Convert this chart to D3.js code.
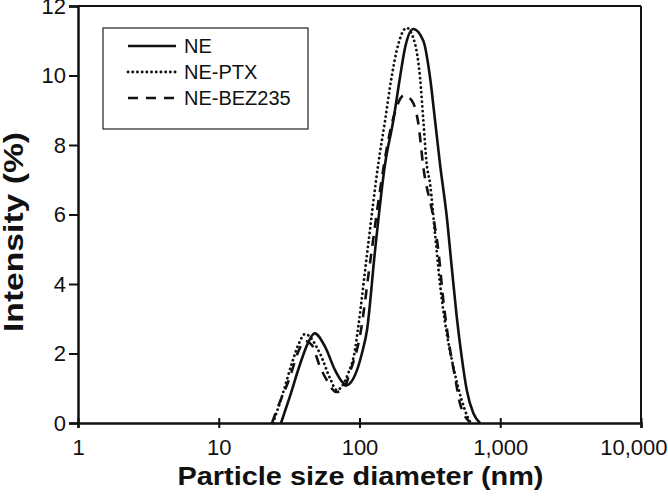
<!DOCTYPE html>
<html>
<head>
<meta charset="utf-8">
<script src="https://cdn.jsdelivr.net/npm/d3@7"></script>
<style>
  body { margin: 0; background: #fff; }
  svg { font-family: "Liberation Sans", Arial, sans-serif; }
</style>
</head>
<body>
<div id="chart"></div>
<script>
// Data: size (nm) and intensity (%)
const neSize = [27.7, 32, 38, 43, 48, 57, 67, 75, 81, 93, 104, 113, 129, 152, 174, 194, 211, 241, 284, 317, 344, 373, 417, 452, 491, 532, 578, 644, 718];
const neInt = [0, 0.76, 1.72, 2.3, 2.58, 2.19, 1.52, 1.19, 1.09, 1.38, 2.0, 2.67, 4.97, 7.46, 8.71, 9.95, 10.81, 11.34, 11.0, 9.95, 8.71, 7.46, 5.93, 4.49, 3.05, 1.91, 0.95, 0.28, 0];

const ptxSize = [24.3, 28.2, 33.1, 37.2, 41, 52.4, 61.7, 68.8, 83.2, 92.9, 98, 115, 136, 152, 169, 189, 216, 248, 269, 284, 300, 317, 344, 373, 417, 464, 532, 593, 617];
const ptxInt = [0, 0.78, 1.72, 2.3, 2.56, 2.0, 1.29, 0.95, 1.43, 2.1, 2.77, 5.1, 7.46, 8.71, 9.95, 10.91, 11.37, 10.91, 9.95, 8.71, 7.46, 6.89, 5.45, 4.01, 2.58, 1.62, 0.66, 0.13, 0];

const bezSize = [23.9, 25.8, 32.1, 36.6, 41, 45.9, 52.4, 59.7, 68.1, 76.3, 85.6, 101, 119, 140, 160, 182, 207, 235, 262, 284, 334, 363, 394, 440, 477, 517, 603];
const bezInt = [0, 0.37, 1.33, 2.04, 2.36, 2.24, 1.62, 1.18, 0.89, 0.95, 1.47, 2.53, 4.63, 6.7, 8.13, 9.05, 9.43, 9.28, 8.61, 7.37, 5.93, 4.97, 3.53, 2.1, 1.33, 0.57, 0.04];

const seriesNames = ['NE', 'NE-PTX', 'NE-BEZ235'];
const xTicks = [1, 10, 100, 1000, 10000];
const yTicks = [0, 2, 4, 6, 8, 10, 12];

//Chart dimensions
const margin = { top: 6, bot: 75, left: 78, right: 27 };
const width = 668 - margin.left - margin.right;
const height = 498 - margin.top - margin.bot;

// Scales
const xScale = d3.scaleLog()
  .domain([1, 10000])
  .range([0, width]);

const yScale = d3.scaleLinear()
  .domain([0, 12])
  .range([height, 0]);

const DOT = '0.1 4.6';
const series = [
  { name: seriesNames[0], values: neSize.map((s, i) => ({ size: s, v: neInt[i] })), dash: null },
  { name: seriesNames[1], values: ptxSize.map((s, i) => ({ size: s, v: ptxInt[i] })), dash: DOT },
  { name: seriesNames[2], values: bezSize.map((s, i) => ({ size: s, v: bezInt[i] })), dash: '10 8' }
];

const svg = d3.select('#chart').append('svg')
  .attr('width', 668)
  .attr('height', 498);

const g = svg.append('g')
  .attr('transform', `translate(${margin.left}, ${margin.top})`);

// frame (top and right)
g.append('line')
  .attr('x1', 0).attr('x2', width)
  .attr('y1', 0).attr('y2', 0)
  .attr('stroke', '#111').attr('stroke-width', 2);
g.append('line')
  .attr('x1', width).attr('x2', width)
  .attr('y1', 0).attr('y2', height)
  .attr('stroke', '#111').attr('stroke-width', 2);

//Axes
const xAxis = d3.axisBottom(xScale)
  .tickValues(xTicks)
  .tickFormat(d3.format(','))
  .tickSize(5)
  .tickPadding(11);

const yAxis = d3.axisLeft(yScale)
  .tickValues(yTicks)
  .tickSize(9)
  .tickPadding(3);

const xAxisGroup = g.append('g')
  .attr('transform', `translate(0, ${height})`)
  .call(xAxis);

const yAxisGroup = g.append('g')
  .call(yAxis);

[xAxisGroup, yAxisGroup].forEach(ax => {
  ax.select('.domain').attr('stroke', '#111').attr('stroke-width', 2.5);
  ax.selectAll('.tick line').attr('stroke', '#111').attr('stroke-width', 2);
  ax.selectAll('.tick text')
    .attr('fill', '#111')
    .style('font-size', '22px')
    .style('font-family', '"Liberation Sans", Arial, sans-serif');
});
// x ticks cross the axis
xAxisGroup.selectAll('.tick line').attr('y1', -5).attr('y2', 5);
// last x label kept inside the picture
xAxisGroup.selectAll('.tick text')
  .filter(d => d === 10000)
  .attr('text-anchor', 'end')
  .attr('x', 26);

//Line function
const line = d3.line()
  .x(d => xScale(d.size))
  .y(d => yScale(d.v))
  .curve(d3.curveMonotoneX);

series.forEach(s => {
  g.append('path')
    .attr('d', line(s.values))
    .attr('fill', 'none')
    .attr('stroke', '#111')
    .attr('stroke-width', s.dash === DOT ? 2.8 : 2.6)
    .attr('stroke-linecap', s.dash === DOT ? 'round' : 'butt')
    .attr('stroke-dasharray', s.dash);
});

//Legend
const legend = svg.append('g')
  .attr('class', 'legend')
  .attr('transform', 'translate(103, 28)');

legend.append('rect')
  .attr('width', 205)
  .attr('height', 101)
  .attr('fill', '#fff')
  .attr('stroke', '#222')
  .attr('stroke-width', 1.2);

series.forEach((s, i) => {
  const row = legend.append('g')
    .attr('transform', `translate(0, ${18 + i * 26})`);
  row.append('line')
    .attr('x1', 25).attr('x2', 73)
    .attr('y1', 0).attr('y2', 0)
    .attr('stroke', '#111')
    .attr('stroke-width', s.dash === DOT ? 2.8 : 2.6)
    .attr('stroke-linecap', s.dash === DOT ? 'round' : 'butt')
    .attr('stroke-dasharray', s.dash);
  row.append('text')
    .attr('x', 81)
    .attr('dy', '0.36em')
    .style('font-size', '20px')
    .attr('fill', '#111')
    .text(s.name);
});

// Axis titles
svg.append('text')
  .attr('x', margin.left + width / 2 + 1)
  .attr('y', 485)
  .attr('text-anchor', 'middle')
  .style('font-size', '26px')
  .style('font-weight', 'bold')
  .attr('fill', '#111')
  .attr('textLength', 366)
  .attr('lengthAdjust', 'spacingAndGlyphs')
  .text('Particle size diameter (nm)');

svg.append('text')
  .attr('transform', 'translate(23, 232) rotate(-90)')
  .attr('text-anchor', 'middle')
  .style('font-size', '27px')
  .style('font-weight', 'bold')
  .attr('fill', '#111')
  .attr('textLength', 200)
  .attr('lengthAdjust', 'spacingAndGlyphs')
  .text('Intensity (%)');
</script>
</body>
</html>
